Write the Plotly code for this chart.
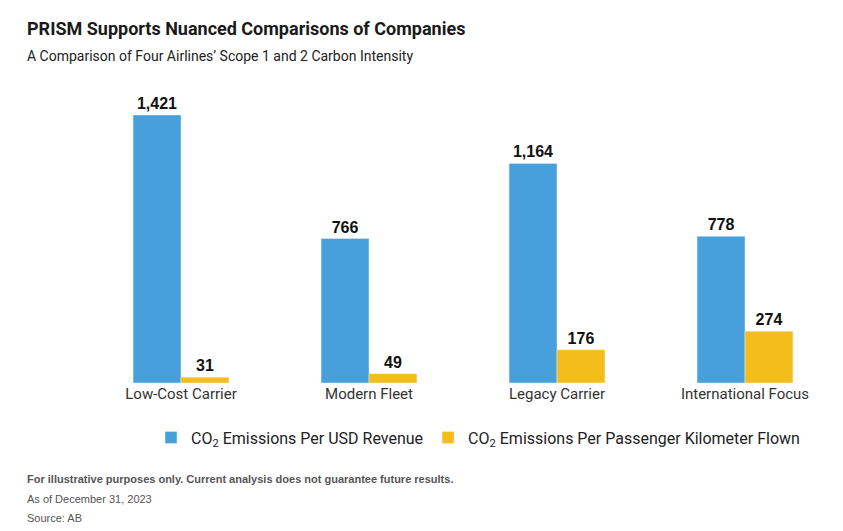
import plotly.graph_objects as go

categories = ["Low-Cost Carrier", "Modern Fleet", "Legacy Carrier", "International Focus"]
revenue = [1421, 766, 1164, 778]
pkm = [31, 49, 176, 274]

W, H = 843, 531
L, R, T, B = 79, 12, 80, 156
fig = go.Figure()
fig.add_bar(x=categories, y=revenue, name="CO<sub>2</sub> Emissions Per USD Revenue",
            marker_color="#479fdb", text=[f"<b>{v:,}</b>" for v in revenue], textposition="outside",
            textfont=dict(family="Arial", size=16, color="#111"), cliponaxis=False)
fig.add_bar(x=categories, y=pkm, name="CO<sub>2</sub> Emissions Per Passenger Kilometer Flown",
            marker_color="#f5bd1c", text=[f"<b>{v:,}</b>" for v in pkm], textposition="outside",
            textfont=dict(family="Arial", size=16, color="#111"), cliponaxis=False)

fig.update_layout(
    width=W, height=H, barmode="group", bargap=0.49, bargroupgap=0,
    plot_bgcolor="white", paper_bgcolor="white",
    margin=dict(l=L, r=R, t=T, b=B, autoexpand=False),
    font=dict(family="Roboto", color="#222"),
    xaxis=dict(showgrid=False, showline=False, ticks="", tickfont=dict(size=15, color="#333")),
    yaxis=dict(visible=False, range=[0, 1564]),
    legend=dict(orientation="h", x=0.52, xanchor="center", y=-0.185, yanchor="middle",
                font=dict(size=16, color="#222"), itemwidth=30, traceorder="normal", tracegroupgap=0),
    showlegend=True,
)
ann = [
    dict(text="<b>PRISM Supports Nuanced Comparisons of Companies</b>", x=17, y=20, size=18, color="#1a1a1a", fam="Roboto"),
    dict(text="A Comparison of Four Airlines\u2019 Scope 1 and 2 Carbon Intensity", x=17, y=48, size=14, color="#222", fam="Roboto"),
    dict(text="<b>For illustrative purposes only. Current analysis does not guarantee future results.</b>", x=17, y=471, size=11, color="#555", fam="Arial"),
    dict(text="As of December 31, 2023", x=17, y=491, size=11, color="#555", fam="Arial"),
    dict(text="Source: AB", x=17, y=510, size=11, color="#555", fam="Arial"),
]
for a in ann:
    fig.add_annotation(text=a["text"], xref="paper", yref="paper",
                       x=(a["x"] - L) / (W - L - R), y=1 - (a["y"] - T) / (H - T - B),
                       xanchor="left", yanchor="middle", showarrow=False,
                       font=dict(size=a["size"], color=a["color"], family=a["fam"]))
fig.write_html("out.html")
